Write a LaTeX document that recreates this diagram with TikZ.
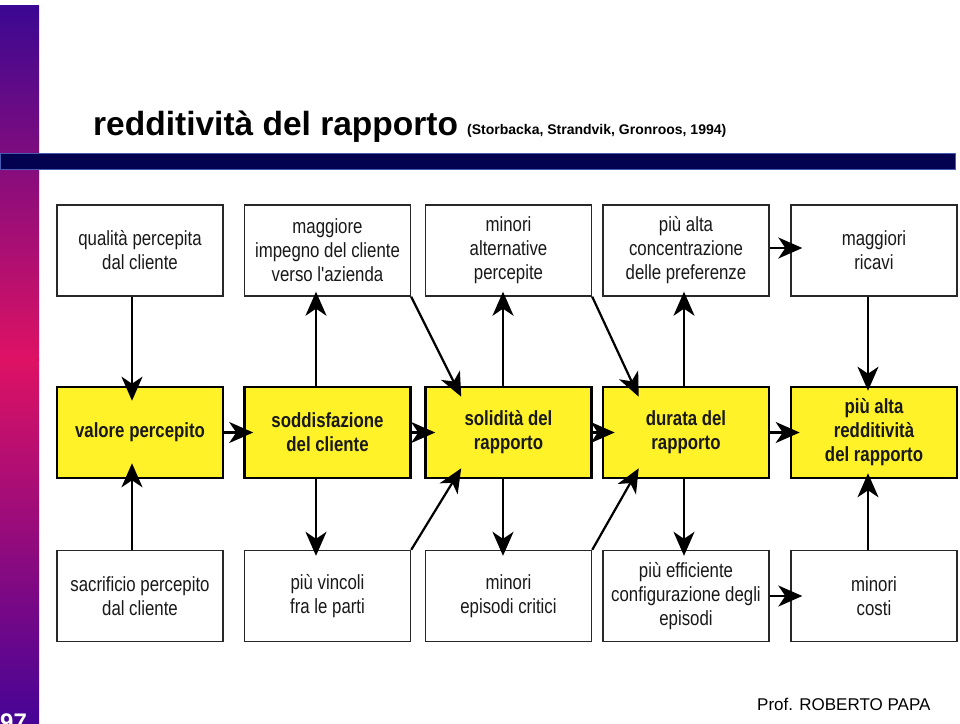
\documentclass[tikz,border=0pt]{standalone}
\usepackage{fontspec}
\setmainfont{Liberation Sans}
\newfontfamily\narrow[FakeStretch=0.82]{Liberation Sans}
\usetikzlibrary{arrows.meta,calc}
\definecolor{boxyellow}{RGB}{255,242,40}
\definecolor{boxedge}{RGB}{40,40,40}
\definecolor{textdark}{RGB}{25,25,25}
\definecolor{sbtop}{RGB}{58,8,146}
\definecolor{sbmid}{RGB}{222,18,100}
\definecolor{sbbot}{RGB}{70,4,150}
\definecolor{barnavy}{RGB}{2,2,80}
\definecolor{baredge}{RGB}{70,90,180}
\begin{document}
\begin{tikzpicture}[x=1pt,y=-1pt,
  wbox/.style={draw=boxedge, line width=1.4pt, fill=white, minimum width=166pt,
    minimum height=91pt, inner sep=0pt, align=center, text=textdark,
    font=\narrow\fontsize{20.5}{24}\selectfont},
  ybox/.style={wbox, draw=black, line width=2.6pt, fill=boxyellow,
    font=\narrow\bfseries\fontsize{20.5}{24}\selectfont},
  arr/.style={line width=2.2pt, draw=black, -{Stealth[length=24pt,width=21pt,inset=7pt]}},
  titlefont/.style={font=\bfseries\fontsize{33.5}{38}\selectfont},
]
\useasboundingbox (0,0) rectangle (960,723);
\fill[white] (0,0) rectangle (960,723);
% sidebar
\shade[top color=sbtop, bottom color=sbmid] (0,5) rectangle (39,360);
\shade[top color=sbmid, bottom color=sbbot] (0,359.5) rectangle (39,723);
% title bar
\fill[barnavy, draw=baredge, line width=1pt] (0,153.5) rectangle (955,169.5);
% titles
\node[titlefont, anchor=base west, inner sep=0pt] (title) at (93,135) {redditività del rapporto};
\node[font=\bfseries\fontsize{14}{16}\selectfont, anchor=base west, inner sep=0pt] (sub) at (467,134) {(Storbacka, Strandvik, Gronroos, 1994)};
\node[font=\fontsize{17}{20}\selectfont, anchor=base west, inner sep=0pt] (prof) at (757,710) {Prof. ROBERTO PAPA};
\node[font=\bfseries\fontsize{24}{28}\selectfont, text=white, anchor=base west, inner sep=0pt] (num) at (0,730) {97};
% top row
\node[wbox] (t1) at (140,250.5) {qualità percepita\\dal cliente};
\node[wbox] (t2) at (327.5,250.5) {maggiore\\impegno del cliente\\verso l'azienda};
\node[wbox] (t3) at (508.5,250.5) {minori\\alternative\\percepite};
\node[wbox] (t4) at (686,250.5) {più alta\\concentrazione\\delle preferenze};
\node[wbox] (t5) at (874,250.5) {maggiori\\ricavi};
% middle row
\node[ybox] (m1) at (140,432.5) {valore percepito};
\node[ybox] (m2) at (327.5,432.5) {soddisfazione\\del cliente};
\node[ybox] (m3) at (508.5,432.5) {solidità del\\rapporto};
\node[ybox] (m4) at (686,432.5) {durata del\\rapporto};
\node[ybox] (m5) at (874,432.5) {più alta\\redditività\\del rapporto};
% bottom row
\node[wbox] (b1) at (140,596) {sacrificio percepito\\dal cliente};
\node[wbox] (b2) at (327.5,596) {più vincoli\\fra le parti};
\node[wbox] (b3) at (508.5,596) {minori\\episodi critici};
\node[wbox] (b4) at (686,596) {più efficiente\\configurazione degli\\episodi};
\node[wbox] (b5) at (874,596) {minori\\costi};
% vertical arrows
\draw[arr,shorten >=-15pt] ([xshift=-8pt]t1.south) -- ([xshift=-8pt]m1.north);
\draw[arr,shorten >=-16pt] ([xshift=-8pt]b1.north) -- ([xshift=-8pt]m1.south);
\draw[arr,shorten >=-5pt] ([xshift=-11.5pt]m2.north) -- ([xshift=-11.5pt]t2.south);
\draw[arr,shorten >=-6pt] ([xshift=-11.5pt]m2.south) -- ([xshift=-11.5pt]b2.north);
\draw[arr,shorten >=-5pt] ([xshift=-5.5pt]m3.north) -- ([xshift=-5.5pt]t3.south);
\draw[arr,shorten >=-6pt] ([xshift=-5.5pt]m3.south) -- ([xshift=-5.5pt]b3.north);
\draw[arr,shorten >=-5pt] ([xshift=-2pt]m4.north) -- ([xshift=-2pt]t4.south);
\draw[arr,shorten >=-6pt] ([xshift=-2pt]m4.south) -- ([xshift=-2pt]b4.north);
\draw[arr,shorten >=-5pt] ([xshift=-6pt]t5.south) -- ([xshift=-6pt]m5.north);
\draw[arr,shorten >=-6pt] ([xshift=-6pt]b5.north) -- ([xshift=-6pt]m5.south);
% diagonal arrows
\draw[arr] (t2.south east) -- ([xshift=37pt,yshift=-11pt]m3.north west);
\draw[arr] (b2.north east) -- ([xshift=37pt,yshift=11pt]m3.south west);
\draw[arr] (t3.south east) -- ([xshift=37pt,yshift=-11pt]m4.north west);
\draw[arr] (b3.north east) -- ([xshift=37pt,yshift=11pt]m4.south west);
% horizontal arrows
\draw[arr,shorten >=-12pt] ([yshift=2.5pt]t4.east) -- ([yshift=2.5pt]t5.west);
\draw[arr,shorten >=-10pt] (m1.east) -- (m2.west);
\draw[arr,shorten >=-11pt] (m2.east) -- (m3.west);
\draw[arr,shorten >=-13pt] ([xshift=-1.5pt]m3.east) -- (m4.west);
\draw[arr,shorten >=-10pt] (m4.east) -- (m5.west);
\draw[arr,shorten >=-12pt] (b4.east) -- (b5.west);
\end{tikzpicture}
\end{document}
